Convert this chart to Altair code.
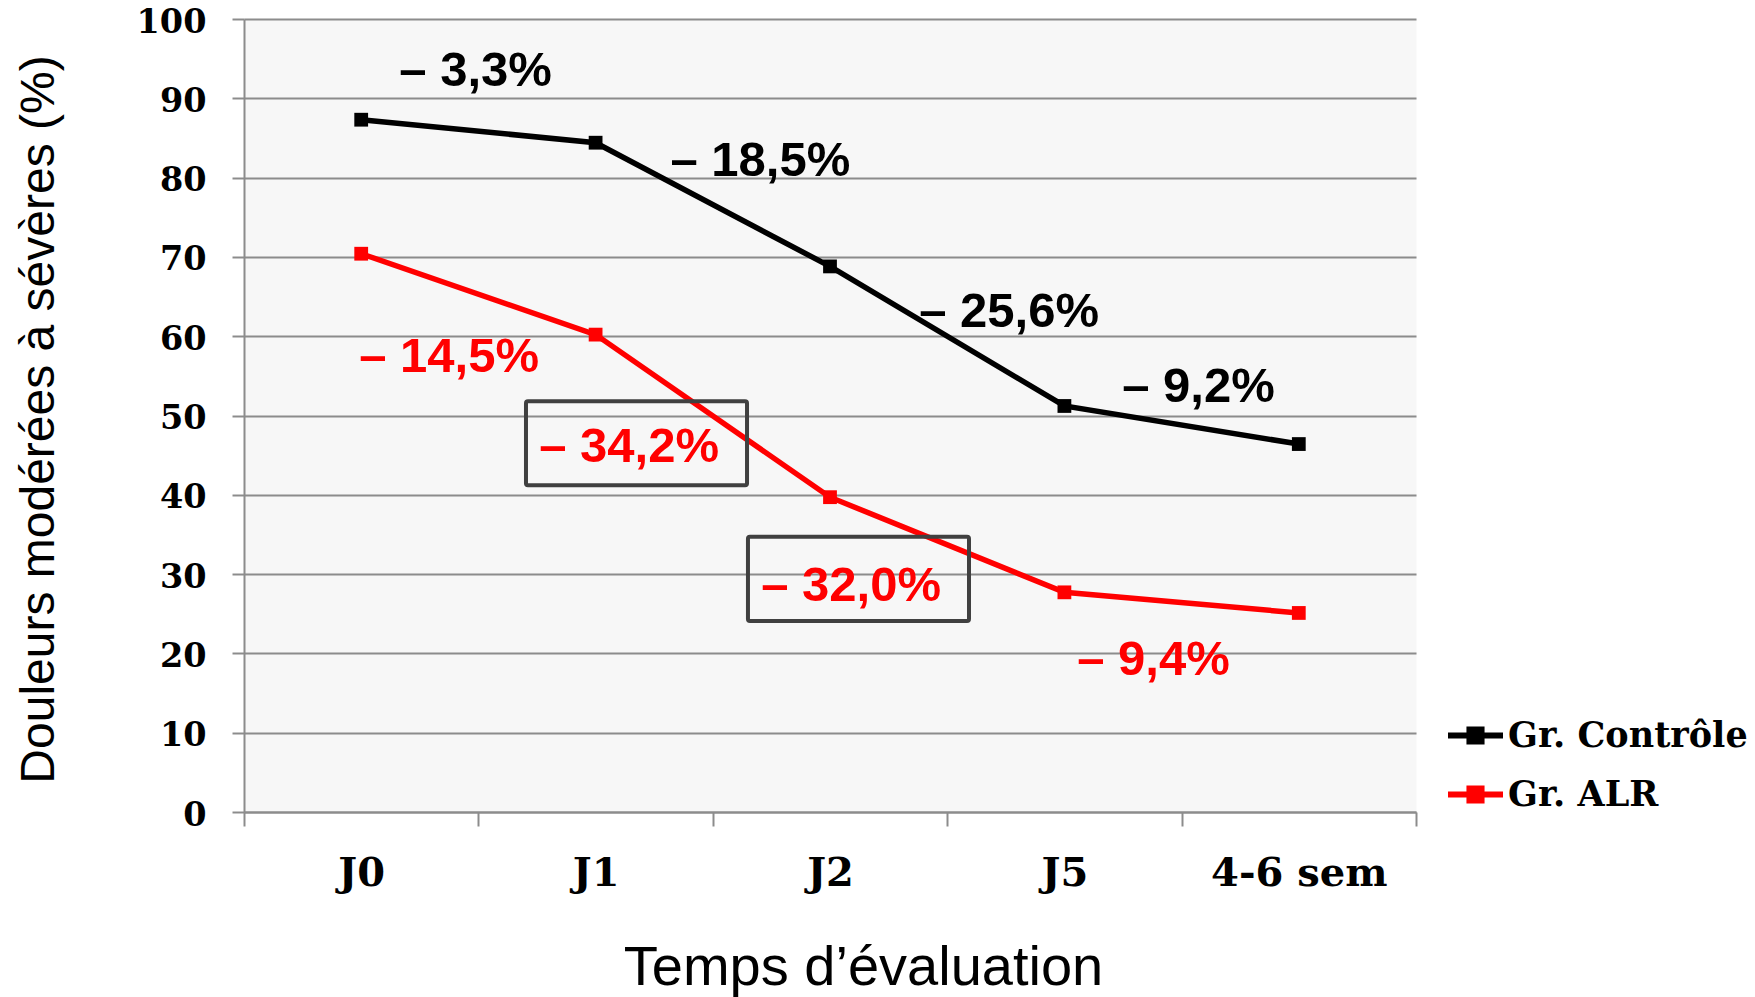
import altair as alt
import pandas as pd

# ---- data ----
categories = ["J0", "J1", "J2", "J5", "4-6 sem"]
controle = [87.3, 84.4, 68.8, 51.2, 46.4]
alr = [70.4, 60.2, 39.7, 27.7, 25.1]
series_names = ["Gr. Contrôle", "Gr. ALR"]
series_colors = ["#000000", "#ff0000"]

# annotations (positions in data units: x on a 0..5 band-index axis, y in %)
ann_text = ["– 3,3%", "– 18,5%", "– 25,6%", "– 9,2%",
            "– 14,5%", "– 34,2%", "– 32,0%", "– 9,4%"]
ann_group = ["Gr. Contrôle"] * 4 + ["Gr. ALR"] * 4
ann_x = [0.988, 2.203, 3.264, 4.072, 0.875, 1.643, 2.590, 3.880]
ann_y = [93.44, 82.09, 62.99, 53.59, 57.38, 45.97, 28.56, 19.23]

box_x = [1.203, 2.150]
box_x2 = [2.146, 3.093]
box_y = [51.8, 34.7]
box_y2 = [41.2, 24.1]

y_ticks = list(range(0, 101, 10))

# ---- tables ----
df = pd.DataFrame({
    "Temps": categories * 2,
    "Valeur": controle + alr,
    "Groupe": [series_names[0]] * len(categories) + [series_names[1]] * len(categories),
})
ann = pd.DataFrame({"texte": ann_text, "Groupe": ann_group, "pos": ann_x, "Valeur": ann_y})
boxes = pd.DataFrame({"pos": box_x, "pos2": box_x2, "Valeur": box_y, "Valeur2": box_y2})

GRID = "#8c8c8c"
W, H = 1172, 793

y_scale = alt.Scale(domain=[0, 100], nice=False)
y_axis = alt.Axis(
    values=y_ticks, grid=True, gridColor=GRID, gridWidth=2,
    domain=True, domainColor=GRID, domainWidth=2,
    ticks=True, tickColor=GRID, tickWidth=2, tickSize=12,
    labelFont="DejaVu Serif", labelFontWeight="bold", labelFontSize=33.5,
    labelColor="black", labelPadding=26, labelOffset=3,
    title="Douleurs modérées à sévères (%)", titleFont="Liberation Sans",
    titleFontWeight="normal", titleFontSize=48, titleColor="black",
    titleAngle=270, titleX=-205, titleY=400, titleAlign="center", titleBaseline="middle",
)

x_axis = alt.Axis(
    tickBand="extent", grid=False, labelAngle=0,
    domain=True, domainColor=GRID, domainWidth=2,
    ticks=True, tickColor=GRID, tickWidth=2, tickSize=14,
    labelFont="DejaVu Serif", labelFontWeight="bold", labelFontSize=40,
    labelColor="black", labelBaseline="alphabetic", labelPadding=59,
    title="Temps d’évaluation", titleFont="Liberation Sans", titleFontWeight="normal",
    titleFontSize=56, titleColor="black", titleX=619, titleY=172,
    titleAlign="center", titleBaseline="alphabetic",
)

legend_symbol = "M-1,0H1M-0.22,-0.22H0.22V0.22H-0.22ZM-0.1,-0.1H0.1V0.1H-0.1Z"

lines = alt.Chart(df).mark_line(
    strokeWidth=5.5,
    point=alt.OverlayMarkDef(shape="square", size=190, filled=True),
).encode(
    x=alt.X("Temps:N", sort=categories, bandPosition=0.5,
            scale=alt.Scale(type="band", paddingInner=0, paddingOuter=0), axis=x_axis),
    y=alt.Y("Valeur:Q", scale=y_scale, axis=y_axis),
    color=alt.Color(
        "Groupe:N",
        scale=alt.Scale(domain=series_names, range=series_colors),
        legend=alt.Legend(
            title=None, orient="none", legendX=1201, legendY=686,
            symbolType=legend_symbol, symbolSize=3025, symbolStrokeWidth=6,
            labelFont="DejaVu Serif", labelFontWeight="bold", labelFontSize=35,
            labelColor="black", labelOffset=2, labelLimit=400,
            rowPadding=10, padding=0,
        ),
    ),
)

xq = alt.Scale(domain=[0, 5], nice=False, zero=False)

txt_black = alt.Chart(ann).transform_filter(
    alt.datum.Groupe == series_names[0]
).mark_text(
    font="Liberation Sans", fontWeight="bold", fontSize=49, color=series_colors[0],
    align="center", baseline="middle",
).encode(
    x=alt.X("pos:Q", scale=xq, axis=None),
    y=alt.Y("Valeur:Q", scale=y_scale),
    text="texte:N",
)

txt_red = alt.Chart(ann).transform_filter(
    alt.datum.Groupe == series_names[1]
).mark_text(
    font="Liberation Sans", fontWeight="bold", fontSize=49, color=series_colors[1],
    align="center", baseline="middle",
).encode(
    x=alt.X("pos:Q", scale=xq, axis=None),
    y=alt.Y("Valeur:Q", scale=y_scale),
    text="texte:N",
)

rects = alt.Chart(boxes).mark_rect(
    fill="transparent", stroke="#404040", strokeWidth=4, cornerRadius=2,
).encode(
    x=alt.X("pos:Q", scale=xq, axis=None),
    x2="pos2:Q",
    y=alt.Y("Valeur:Q", scale=y_scale),
    y2="Valeur2:Q",
)

chart = alt.layer(lines, rects, txt_black, txt_red).resolve_scale(
    x="independent"
).properties(
    width=W, height=H,
    autosize=alt.AutoSizeParams(type="none"),
    padding={"left": 244, "top": 19, "right": 339, "bottom": 185},
    background="white",
).configure_view(
    fill="#f7f7f7", stroke="transparent",
)

chart.save("out.html", embed_options={"renderer": "svg", "actions": False})
